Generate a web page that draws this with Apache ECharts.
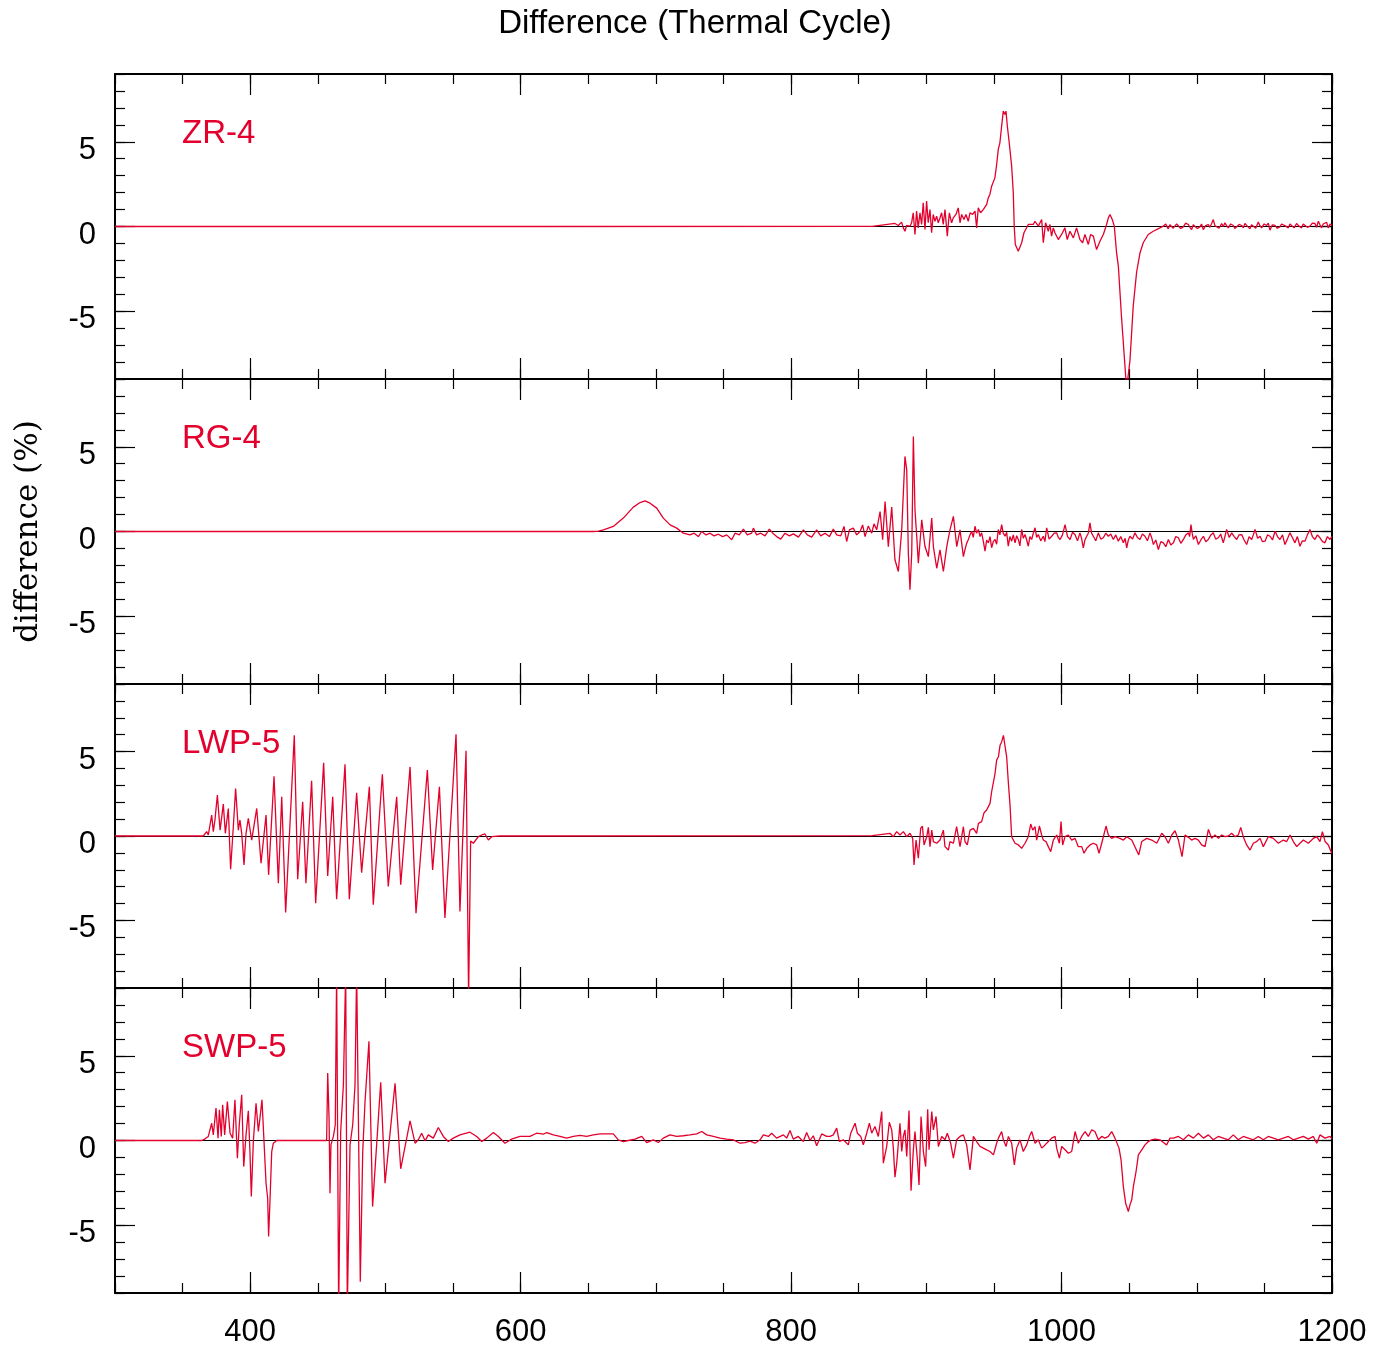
<!DOCTYPE html>
<html><head><meta charset="utf-8">
<script src="https://cdn.jsdelivr.net/npm/echarts@6/dist/echarts.min.js"></script>
<style>html,body{margin:0;padding:0;background:#fff}#c{width:1390px;height:1353px}</style>
</head><body><div id="c"></div>
<script>
// ---------- data ----------
const chartTitle = 'Difference (Thermal Cycle)';
const yAxisTitle = 'difference (%)';
const panelNames = ['ZR-4', 'RG-4', 'LWP-5', 'SWP-5'];
const xTickLabels = [400, 600, 800, 1000, 1200];
const yTickLabels = [-5, 0, 5];

const zr4 = [[300,0],[600,0],[860,0.01],[876.8,0.18],[879.3,0.06],[881.7,0.26],[883,-0.08],[884.2,-0.28],[885.4,0.06],[887.9,0.02],[889.1,0.22],[890.3,0.81],[891.6,-0.47],[892.8,0.91],[894,-0.08],[895.3,0.81],[896.5,0.12],[897.7,1.40],[899,-0.18],[900.2,1.50],[901.4,0.22],[902.7,1.0],[903.9,-0.37],[905.1,0.71],[906.4,0.31],[907.6,0.61],[908.8,0.22],[910.1,0.51],[911.3,0.81],[912.5,0.12],[913.8,1.0],[915.5,-0.57],[917,0.81],[918.7,0.22],[919.9,0.51],[921.9,0.71],[923.6,1.10],[924.9,0.22],[926.1,0.71],[927.8,0.41],[929.3,0.71],[931,0.31],[932.3,0.81],[934.2,0.71],[936,0.91],[937.2,-0.08],[938.4,1.10],[940.1,0.81],[942.1,1.0],[943.3,1.10],[944.6,1.30],[945.8,1.69],[947,1.89],[948.3,2.38],[949.5,2.48],[950.7,2.87],[952,3.66],[953.2,4.55],[954.4,4.94],[955.7,5.93],[956.9,6.81],[958.1,6.61],[958.9,6.81],[959.9,5.93],[961.3,4.94],[963.1,3.56],[964.3,1.99],[965,0.02],[965.8,-1.06],[968,-1.46],[970.5,-0.96],[972.2,-0.37],[975.4,0.12],[976.6,0.22],[979.1,0.12],[980.3,0.31],[982.8,0.02],[985.3,0.41],[986.5,-0.96],[988.2,0.22],[990.2,-0.28],[991.4,0.12],[992.6,-0.57],[993.9,-0.08],[995.1,-0.37],[997.6,-0.77],[1000,-0.47],[1002.5,-0.08],[1004.2,-0.77],[1006.2,-0.28],[1008.7,-0.67],[1011.1,-0.08],[1013.6,-0.77],[1015.6,-0.96],[1017.3,-0.47],[1019.8,-1.06],[1021.5,-0.47],[1023.5,-0.57],[1025.9,-1.36],[1028.4,-0.87],[1030.9,-0.47],[1033.3,0.12],[1034.6,0.51],[1035.8,0.71],[1037.5,0.41],[1039,0.02],[1040.7,-1.56],[1042,-2.34],[1044.4,-5.41],[1046.9,-8.25],[1048.1,-9.6],[1049.3,-9.6],[1050.6,-7.9],[1053,-4.7],[1055.5,-2.7],[1058,-1.56],[1060.4,-0.96],[1064.1,-0.47],[1067.8,-0.28],[1072.8,-0.08],[1075.2,0.02],[1077,0.15],[1078.9,-0.14],[1080.1,0.1],[1081.4,0.12],[1082.6,-0.1],[1083.9,-0.08],[1085.1,0.15],[1086.3,0.06],[1088.1,-0.12],[1090,-0.02],[1091.8,0.2],[1093.7,0.12],[1095,-0.05],[1096.2,-0.18],[1097.4,0.1],[1098.6,0.06],[1100.4,-0.12],[1102.3,-0.02],[1103.5,0.15],[1104.8,-0.18],[1106.6,0.05],[1108.5,0.12],[1109.7,-0.05],[1111,0.18],[1112.2,0.41],[1113.4,0.05],[1114.7,0.02],[1116.5,-0.1],[1118.4,0.18],[1119.6,-0.02],[1120.8,0.22],[1122,0.05],[1123.3,-0.08],[1125.1,0.15],[1127,0.06],[1128.2,-0.12],[1129.5,-0.08],[1131.3,0.12],[1133.2,0.06],[1134.4,-0.08],[1135.6,0.18],[1137.4,0.02],[1139.3,-0.14],[1140.5,0.1],[1141.8,0.02],[1143.6,-0.1],[1145.5,0.26],[1146.7,0.05],[1148,-0.08],[1149.8,0.15],[1151.7,0.06],[1152.9,0.2],[1154.1,-0.22],[1155.9,0.1],[1157.8,0.06],[1159.6,-0.1],[1161.5,-0.02],[1162.7,0.15],[1164,0.22],[1165.8,0.02],[1167.7,-0.08],[1168.9,0.15],[1170.1,0.06],[1172,-0.08],[1173.8,0.18],[1175.6,0.02],[1177.5,-0.08],[1178.7,0.15],[1180,0.12],[1181.8,-0.05],[1183.7,0.02],[1185.5,0.2],[1187.4,0.18],[1188.6,-0.05],[1189.9,0.31],[1191.1,0.1],[1192.3,-0.08],[1193.5,0.15],[1194.8,0.12],[1196,0.25],[1197.2,-0.08],[1198.6,0.15],[1200,0.06]];

const rg4 = [[300,0],[600,0],[653.8,0],[657.5,0.02],[661.2,0.10],[668.5,0.30],[675.9,0.79],[683.3,1.44],[688.3,1.71],[692,1.81],[695.7,1.67],[700.6,1.38],[705.5,0.79],[710.5,0.39],[715.4,0.20],[720.3,-0.10],[725.2,-0.20],[728.2,-0.10],[731.4,-0.30],[733.9,0],[737.1,-0.2],[740,-0.1],[743,-0.26],[746.2,-0.16],[749.4,-0.3],[752.4,-0.2],[756.1,-0.49],[758.5,-0.1],[761.7,-0.2],[764.7,0.14],[767.6,-0.2],[770.8,-0.1],[772.1,0.2],[774.5,-0.2],[777.5,-0.1],[780.7,-0.26],[783.9,0.14],[786.9,-0.14],[789.3,-0.3],[792.3,-0.45],[795.5,-0.1],[798.7,-0.26],[801.7,-0.14],[805.4,-0.33],[809.1,0.1],[812,-0.2],[815.2,-0.33],[818.9,0.1],[821.9,-0.26],[825.1,-0.1],[828.3,-0.3],[831.2,0.14],[833.7,-0.2],[836.7,-0.26],[839.1,0.3],[841.1,-0.59],[843.1,0.1],[846,0.2],[848.5,-0.2],[851,0],[852.9,0.39],[854.7,-0.3],[857.1,0.33],[859.6,-0.1],[861.3,0.45],[863.3,0.1],[865.8,1.18],[867.7,-0.49],[869.5,1.77],[871.9,-0.89],[874.4,1.44],[876.8,-1.67],[879.3,-2.36],[881.8,0.1],[884.2,4.43],[885.5,3.64],[886.7,-1.28],[887.9,-3.44],[889.2,-1.28],[890.4,5.61],[891.6,1.28],[892.9,-0.3],[894.1,-1.87],[896.6,0.69],[899,-0.89],[901.5,-1.48],[904,0.79],[905.2,-0.89],[907.7,-2.17],[910.1,-1.08],[912.6,-2.36],[915.1,-0.89],[917.5,0.1],[920,0.89],[922.5,-0.89],[924.9,0.1],[927.4,-1.48],[928.6,-1.06],[929.8,-0.7],[931.1,-0.47],[932.3,-0.2],[933.5,0.02],[934.7,-0.35],[936,0.31],[937.2,-0.1],[938.5,0.12],[939.7,-0.3],[940.9,-0.08],[942.2,-0.6],[943.4,-1.16],[944.6,-0.5],[945.9,-0.67],[947.1,-0.3],[948.3,-0.96],[949.5,-0.6],[950.8,-0.47],[952,-0.75],[953.2,0.12],[954.4,-0.2],[955.7,0.41],[956.9,-0.1],[958.2,-0.28],[959.4,-0.05],[960.6,-0.87],[961.8,-0.3],[963.1,-0.57],[964.3,-0.2],[965.6,-0.67],[966.8,-0.25],[968,-0.47],[969.2,-0.85],[970.5,0.12],[971.7,-0.4],[973,-0.18],[974.2,-0.5],[975.4,-0.87],[976.6,-0.3],[977.9,-0.47],[979.1,-0.1],[980.4,0.22],[981.6,-0.35],[982.8,-0.18],[984.6,-0.55],[986.5,-0.28],[987.7,-0.6],[989,0.22],[990.8,-0.45],[992.7,-0.28],[994.5,-0.1],[996.4,-0.08],[997.6,-0.35],[998.9,-0.47],[1000.7,-0.2],[1002.6,0.41],[1004.4,-0.3],[1006.3,-0.47],[1008.1,-0.05],[1009.9,-0.18],[1011.8,-0.55],[1013.6,-0.08],[1014.8,-0.4],[1016.1,-0.96],[1017.3,-0.5],[1018.6,-0.28],[1019.8,-0.1],[1021,0.51],[1022.2,-0.1],[1023.5,-0.28],[1025.3,-0.55],[1027.2,-0.08],[1029,-0.45],[1030.9,-0.37],[1032.7,-0.1],[1034.6,-0.28],[1036.4,-0.15],[1038.3,-0.47],[1040.1,-0.2],[1042,-0.57],[1043.8,-0.3],[1045.7,-0.67],[1047,-0.4],[1048.2,-0.96],[1049.4,-0.5],[1050.6,-0.28],[1052.5,-0.45],[1054.3,-0.08],[1056.1,-0.35],[1058,-0.47],[1059.8,-0.15],[1061.7,-0.28],[1063.5,-0.55],[1065.4,-0.08],[1066.6,-0.35],[1067.9,-0.77],[1069.7,-0.5],[1071.6,-1.06],[1073.4,-0.6],[1075.3,-0.67],[1077.1,-0.9],[1079,-0.47],[1080.8,-0.8],[1082.7,-0.67],[1084.5,-0.3],[1086.4,-0.37],[1088.2,-0.7],[1090.1,-0.47],[1091.9,-0.2],[1093.8,-0.08],[1094.7,-0.3],[1095.7,0.41],[1096.6,-0.1],[1097.5,-0.47],[1099.3,-0.25],[1101.2,-0.77],[1103,-0.5],[1104.9,-0.28],[1106.7,-0.6],[1108.5,-0.47],[1110.4,-0.2],[1112.2,-0.08],[1114,-0.45],[1115.9,-0.37],[1117.7,-0.15],[1119.6,-0.67],[1120.8,-0.3],[1122.1,0.12],[1124,-0.35],[1125.8,-0.08],[1127.7,-0.3],[1129.5,-0.47],[1131.3,-0.2],[1133.2,-0.18],[1135,-0.5],[1136.9,-0.77],[1138.7,-0.3],[1140.6,-0.47],[1141.8,-0.2],[1143.1,0.12],[1145,-0.4],[1146.8,-0.28],[1148.6,-0.6],[1150.5,-0.57],[1152.3,-0.2],[1154.2,-0.28],[1156,-0.5],[1157.9,0.02],[1159.7,-0.3],[1161.5,-0.47],[1163.4,-0.2],[1165.2,-0.77],[1167,-0.45],[1168.9,-0.08],[1170.7,-0.35],[1172.6,-0.67],[1174.4,-0.3],[1176.3,-0.87],[1178.1,-0.55],[1180,-0.57],[1181.8,-0.2],[1183.7,0.12],[1185.5,-0.3],[1187.4,-0.47],[1189.2,-0.2],[1191.1,-0.37],[1193,-0.6],[1194.8,-0.67],[1196.6,-0.3],[1198.5,-0.47],[1200,-0.28]];

const lwp5 = [[300,0],[365.3,0],[367.8,0.26],[369,0.06],[371.5,1.24],[372.7,0.26],[373.9,0.94],[375.7,2.42],[377.7,0.35],[380.1,1.89],[381.6,0.16],[383.8,1.63],[385.5,-1.97],[387.5,0.55],[389.2,2.81],[391.2,0.35],[392.4,0.94],[393.7,0.16],[395.4,-1.71],[396.9,0.16],[398.6,1.04],[401.1,-0.24],[404.8,1.63],[408,-1.61],[411.7,1.24],[413.6,-2.30],[417.6,3.54],[420.8,-2.80],[423.3,2.32],[426.2,-4.53],[432.6,5.96],[435.1,-2.56],[438.8,2.03],[441.2,-2.80],[445.4,3.27],[448.4,-3.98],[454.3,4.33],[457.3,-2.36],[461,2.32],[463.9,-3.74],[470.1,4.25],[473.3,-3.74],[478.7,2.56],[482.4,-2.17],[488.1,2.91],[491,-4.07],[497.7,3.66],[502.1,-2.99],[508.3,2.32],[511.3,-2.89],[518.2,4.09],[522.6,-4.57],[531,3.90],[534.9,-2.01],[539.9,2.91],[544,-4.86],[552.2,6.02],[555.1,-4.47],[559.6,5.04],[561.5,-9.6],[562.3,-9.6],[563,-0.30],[565,-0.43],[566.2,-0.33],[568.7,-0.04],[571.2,0.06],[573.6,0.12],[576.1,-0.24],[578.6,-0.04],[584.7,0],[600,0],[860,0.02],[873.1,0.16],[875.6,-0.04],[878.1,0.26],[880.5,0.06],[883,0.26],[885.5,-0.04],[887.9,0.16],[889.9,-0.14],[890.9,-1.71],[892.4,-0.24],[894.1,-1.32],[895.8,0.45],[897.1,0.59],[898.3,-0.53],[900.3,-0.04],[901.5,0.51],[902.7,-0.63],[904,0.35],[905.2,-0.33],[907.7,-0.43],[910.1,-0.24],[912.6,0.35],[913.8,-0.63],[916.3,-0.83],[917.5,-0.33],[920,-0.43],[922.4,0.55],[923.7,0.65],[924.9,-0.63],[927.4,0.55],[928.6,-0.33],[930.3,-0.53],[932.3,0.35],[934.8,0.45],[937.2,0.16],[938.5,0.75],[940.9,0.85],[942.7,1.38],[944.6,1.54],[947.1,1.93],[948.3,2.62],[949.6,2.72],[950.8,3.70],[952,4.49],[953.3,4.69],[954.5,5.37],[955.7,5.57],[957,5.96],[958.2,5.87],[959.4,4.69],[960.7,3.11],[961.9,1.83],[963.1,-0.04],[964.4,-0.14],[965.6,-0.43],[968.1,-0.53],[970.5,-0.73],[971.7,-0.83],[973,-0.43],[975.4,-0.04],[977.2,0.71],[978.7,0.35],[980.4,0.55],[981.6,-0.24],[983.6,0.59],[985.3,0.06],[986.5,-0.24],[988.5,-0.33],[990.2,-0.63],[992,-0.93],[993.9,-0.24],[996.4,0.06],[998.4,-0.43],[999.6,0.85],[1000.8,-0.53],[1002.6,-0.04],[1005,0.06],[1007.5,-0.24],[1010,-0.14],[1012.4,-0.63],[1014.9,-0.63],[1016.6,-1.02],[1018.6,-0.73],[1021.1,-0.53],[1023.5,-0.43],[1026,-0.53],[1027.7,-1.02],[1029.7,-0.43],[1032.9,0.59],[1034.6,0.06],[1037.1,-0.14],[1039.5,-0.04],[1043.2,-0.14],[1045.7,-0.24],[1048.2,-0.04],[1051.9,-0.24],[1057.1,-1.12],[1059.3,-0.33],[1063,-0.14],[1066.7,-0.24],[1070.4,-0.43],[1074.1,0.16],[1076.5,-0.04],[1079,-0.43],[1081.5,0.06],[1083.9,0.31],[1086.4,-0.24],[1089.1,-1.22],[1091.3,0.06],[1093.8,-0.08],[1096.2,-0.24],[1098.7,-0.14],[1101.2,-0.24],[1103.6,-0.53],[1106.1,-0.63],[1108.6,0.39],[1111,-0.14],[1113.5,0.06],[1116,-0.14],[1118.4,0.06],[1120.9,-0.04],[1123.4,0],[1125.8,0.16],[1128.3,-0.04],[1130.7,0.06],[1132.5,0.51],[1134.4,-0.04],[1136.9,-0.53],[1139.4,-0.83],[1141.8,-0.43],[1144.3,-0.33],[1146.8,-0.14],[1149.2,-0.63],[1152.9,-0.04],[1156.6,-0.14],[1160.3,-0.43],[1164,-0.24],[1166.5,-0.33],[1169,0.06],[1171.4,-0.33],[1173.9,-0.63],[1176.3,-0.43],[1178.8,-0.24],[1182.5,-0.43],[1186.2,-0.14],[1188.7,-0.04],[1191.1,-0.33],[1192.9,0.26],[1194.9,-0.33],[1197.3,-0.53],[1199.8,-1.02]];

const swp5 = [[300,0],[364.1,0],[366.6,0.10],[369,0.24],[371.5,1.02],[372.7,0.33],[374.7,1.91],[376.2,0.14],[377.2,1.81],[378.6,0.24],[379.6,2.11],[381.1,0.33],[383.1,2.30],[385.1,0.43],[387,0.14],[388.7,2.40],[390.5,-1.04],[391.9,0.93],[393.7,2.70],[395.2,-1.54],[396.9,0.33],[398.6,1.75],[399.8,-0.65],[400.8,-3.31],[402.3,-0.06],[404.3,2.20],[406,0.53],[407.2,1.32],[408.7,2.40],[410.2,-0.06],[411.7,-2.52],[412.9,-3.41],[413.6,-5.67],[414.6,-3.60],[415.9,-0.65],[417.1,-0.16],[419.6,0],[456.5,0],[457.3,3.98],[458.3,1.32],[459,-3.11],[459.7,-0.26],[461.5,0.24],[462.9,0.93],[463.9,10],[465.4,-10],[466.9,0.53],[468.9,3.29],[470.6,10],[471.8,-10],[473.8,-0.26],[475.8,0.93],[477.5,3.29],[478.7,10],[480,1.32],[481.4,-8.33],[483.2,-0.65],[484.9,2.30],[487.8,5.85],[490.5,-3.90],[496.5,3.44],[499.7,-2.52],[507.1,3.37],[511.3,-1.67],[518.2,1.16],[521.9,-0.16],[524.3,0.04],[526.8,0.43],[529.3,-0.02],[531.7,0.33],[535.4,0.14],[539.1,0.77],[542.8,0.24],[546.5,-0.06],[550.2,0.14],[555.1,0.33],[562.5,0.49],[567.5,0.24],[571.2,-0.06],[574.9,0.14],[579.8,0.47],[583.5,0.24],[588.4,-0.16],[593.3,0.08],[599.5,0.24],[606.9,0.24],[611.8,0.43],[616.8,0.37],[619.2,0.47],[624.2,0.33],[629.1,0.24],[634,0.14],[639,0.24],[643.9,0.30],[648.8,0.24],[653.7,0.33],[658.7,0.39],[663.6,0.39],[668.5,0.39],[672.2,0.04],[675.9,-0.06],[679.6,0],[684.6,0.08],[689.5,0.24],[693.2,-0.12],[698.1,0.04],[701.8,-0.12],[705.5,0.14],[710.4,0.33],[715.4,0.24],[720.3,0.28],[725.2,0.33],[730.2,0.39],[733.9,0.53],[737.6,0.33],[742.5,0.24],[747.4,0.14],[752.3,0.08],[757.3,0.04],[762.2,-0.16],[765.9,-0.12],[769.6,-0.04],[773.3,-0.16],[777,0.04],[779.5,0.33],[783.2,0.24],[785.6,0.43],[789.3,0.14],[794.3,0.33],[796.7,0.14],[799.2,0.59],[801.6,0.08],[805.3,0.24],[809,-0.06],[811.5,0.47],[814,0],[816.4,0.28],[818.9,-0.31],[822.6,0.39],[826.3,0.24],[828.8,0.24],[831.2,0.33],[833.7,0.73],[835.7,-0.06],[838.6,0.04],[842.3,-0.26],[844.1,0.43],[847.3,1.02],[849,0.43],[851.5,0.24],[853.4,-0.26],[855.9,0.43],[857.9,1.02],[859.6,0.43],[862,0.83],[864.5,0.24],[865.7,0.93],[867,1.71],[868.2,-1.34],[870.7,-0.35],[872.6,1.08],[874.4,0.63],[875.6,-0.45],[876.8,-2.17],[878.1,-1.34],[879.3,-0.16],[880.5,1.02],[881.8,-0.65],[883,0.24],[884.2,0.63],[885.5,-0.94],[887.2,1.77],[888.7,-2.97],[890.4,-0.55],[891.6,0.53],[893.4,-1.14],[894.6,-2.62],[896.1,1.42],[897.8,-0.65],[899.5,-1.54],[901,1.85],[902,-0.55],[904,1.71],[905.2,0.63],[907.2,1.42],[908.9,-0.35],[911.4,0.24],[913.8,0.04],[915.5,0.43],[918,-0.16],[920,-1.04],[922.4,0.04],[924.9,0.24],[927.4,0.33],[929.8,-0.26],[932.3,-1.73],[934.8,0.24],[937.2,-0.06],[939.7,-0.35],[942.2,-0.45],[944.6,-0.55],[947.1,-0.65],[949.6,-0.85],[952,-0.16],[953.3,0.14],[955.7,0.53],[957,0.04],[959,-0.35],[960.7,0.24],[963.1,-0.16],[965.1,-1.44],[966.8,-0.45],[969.3,0.04],[971.7,-0.65],[974.2,-0.26],[976.7,0.33],[977.9,0.53],[980.4,-0.16],[982.8,0.04],[985.3,-0.45],[987.8,-0.26],[990.2,-0.06],[992.7,0.14],[995.2,0.24],[996.4,-0.45],[998.4,-1.04],[1000.1,-0.35],[1002.6,-0.55],[1005,-0.75],[1007.5,-0.65],[1010,0.53],[1012.4,-0.16],[1014.9,0.24],[1017.4,0.53],[1019.8,0.24],[1022.3,0.63],[1024.7,0.53],[1027.2,0.04],[1029.7,0.24],[1032.1,0.14],[1034.6,0.24],[1037.1,0.53],[1039.5,0.14],[1040.8,0.04],[1042.5,-0.45],[1044,-1.14],[1045.7,-2.72],[1047.4,-3.70],[1049.4,-4.19],[1050.6,-3.80],[1051.9,-3.50],[1053.1,-2.72],[1055.1,-1.83],[1056.8,-0.85],[1059.3,-0.55],[1061.7,-0.26],[1064.2,-0.06],[1066.6,0.04],[1069.1,0.08],[1072.8,0.04],[1077.7,-0.26],[1080.2,0.14],[1082.7,0.14],[1086.4,0.24],[1090.1,0.04],[1093.8,0.33],[1097.5,0.14],[1101.2,0.43],[1104.9,0.14],[1108.6,0.33],[1112.2,0.04],[1115.9,0.24],[1119.6,0.14],[1123.3,0.04],[1127,0.33],[1130.7,0.04],[1134.4,0.24],[1138.1,0.14],[1141.8,0.04],[1145.5,0.24],[1149.2,0.04],[1152.9,0.24],[1156.6,0.14],[1160.3,0.04],[1164,0.14],[1167.7,0.24],[1171.4,0.04],[1175.1,0.14],[1178.8,0.24],[1182.5,0.08],[1186.2,0.24],[1188.7,-0.16],[1191.1,0.33],[1194.8,0.14],[1198.5,0.24],[1200,0.1]];

// ---------- chart ----------
const seriesData = [zr4, rg4, lwp5, swp5];
const RED = '#e3002c';
const FONT = '"Liberation Sans", Arial, Helvetica, sans-serif';
const LEFT = 115, WIDTH = 1217;
const tops = [74, 379, 684, 988];
const heights = [305, 305, 304, 305];

const grids = [], xAxes = [], yAxes = [], series = [];
const titles = [{
  text: chartTitle, left: 'center', top: 2,
  textStyle: { fontFamily: FONT, fontSize: 33, fontWeight: 'normal', color: '#000' }
}];
const tickStyle = { color: '#000', width: 1.2 };
const frame = { show: true, onZero: false, lineStyle: { color: '#000', width: 2 } };
const gridBase = { left: LEFT, width: WIDTH, containLabel: false, outerBoundsMode: 'none' };

tops.forEach((t, i) => grids.push(Object.assign({ top: t, height: heights[i] }, gridBase)));
tops.forEach((t, i) => grids.push(Object.assign({ top: t, height: heights[i] }, gridBase)));

for (let i = 0; i < 4; i++) {
  const last = i === 3;
  ['bottom', 'top'].forEach(pos => xAxes.push({
    gridIndex: i, type: 'value', position: pos, min: 300, max: 1200, interval: 50,
    axisLine: frame,
    axisTick: { show: true, inside: true, length: 10, lineStyle: tickStyle },
    axisLabel: { show: last && pos === 'bottom', customValues: xTickLabels, formatter: v => String(v),
      fontFamily: FONT, fontSize: 31, color: '#000', margin: 24 },
    splitLine: { show: false }
  }));
  ['left', 'right'].forEach(pos => yAxes.push({
    gridIndex: i, type: 'value', position: pos, min: -9, max: 9, interval: 1,
    axisLine: frame,
    axisTick: { show: true, inside: true, length: 10, lineStyle: tickStyle },
    axisLabel: { show: pos === 'left', customValues: yTickLabels, formatter: v => String(v),
      fontFamily: FONT, fontSize: 31, color: '#000', margin: 19, verticalAlign: 'top', lineHeight: 17 },
    splitLine: { show: false },
    name: (i === 1 && pos === 'left') ? yAxisTitle : '',
    nameLocation: 'middle', nameGap: 71,
    nameTextStyle: { fontFamily: '"DejaVu Serif", serif', fontSize: 31, color: '#000' }
  }));
  titles.push({
    text: panelNames[i], left: 177, top: tops[i] + 38,
    textStyle: { fontFamily: FONT, fontSize: 33, fontWeight: 'normal', color: RED }
  });
  series.push({
    type: 'line', xAxisIndex: 2 * i, yAxisIndex: 2 * i, data: seriesData[i],
    showSymbol: false, symbol: 'none', clip: true, z: 3,
    lineStyle: { color: RED, width: 1.3 }, itemStyle: { color: RED },
    markLine: {
      silent: true, symbol: 'none', z: 2, animation: false,
      label: { show: false },
      lineStyle: { color: '#000', width: 1.2, type: 'solid' },
      data: [{ yAxis: 0 }]
    }
  });
}
// overlay grids: long major ticks
for (let i = 0; i < 4; i++) {
  ['bottom', 'top'].forEach(pos => xAxes.push({
    gridIndex: 4 + i, type: 'value', position: pos, min: 300, max: 1200,
    axisLine: { show: false, onZero: false },
    axisTick: { show: true, inside: true, length: 21, customValues: xTickLabels, lineStyle: tickStyle },
    axisLabel: { show: false, customValues: xTickLabels },
    splitLine: { show: false }
  }));
  ['left', 'right'].forEach(pos => yAxes.push({
    gridIndex: 4 + i, type: 'value', position: pos, min: -9, max: 9,
    axisLine: { show: false, onZero: false },
    axisTick: { show: true, inside: true, length: 20, customValues: yTickLabels, lineStyle: tickStyle },
    axisLabel: { show: false, customValues: yTickLabels },
    splitLine: { show: false }
  }));
}

const chart = echarts.init(document.getElementById('c'), null, { renderer: 'canvas' });
chart.setOption({
  animation: false,
  backgroundColor: '#fff',
  title: titles,
  grid: grids,
  xAxis: xAxes,
  yAxis: yAxes,
  series: series
});
</script>
</body></html>
